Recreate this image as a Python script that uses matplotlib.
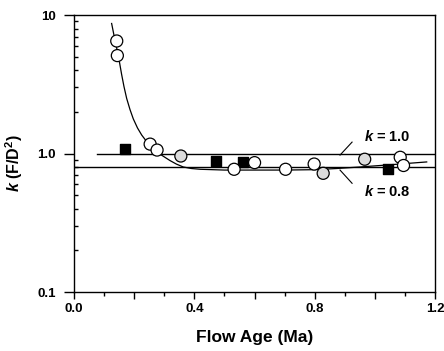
import matplotlib
matplotlib.use("Agg")
import matplotlib.pyplot as plt
from matplotlib.ticker import FixedLocator, NullFormatter, LogLocator

plt.rcParams['font.family'] = ['Liberation Sans', 'DejaVu Sans']
plt.rcParams['mathtext.fontset'] = 'custom'
plt.rcParams['mathtext.rm'] = 'Liberation Sans:bold'
plt.rcParams['mathtext.it'] = 'Liberation Sans:bold:italic'
plt.rcParams['mathtext.bf'] = 'Liberation Sans:bold'

# Open circles (flow age Ma, k)
circ_age = [0.142, 0.144, 0.253, 0.276, 0.355, 0.532, 0.600, 0.703, 0.798, 0.828, 0.966, 1.084, 1.095]
circ_k = [6.5, 5.1, 1.17, 1.06, 0.96, 0.77, 0.86, 0.77, 0.84, 0.72, 0.91, 0.94, 0.82]
circ_fill = ['white', 'white', 'white', 'white', '#dcdcdc', 'white', 'white', 'white', 'white',
             '#dcdcdc', '#dcdcdc', 'white', 'white']

# Filled squares
sq_age = [0.170, 0.471, 0.561, 1.045]
sq_k = [1.08, 0.89, 0.87, 0.78]

# Fitted curve
fit_age = [0.125, 0.136, 0.147, 0.158, 0.166, 0.175, 0.186, 0.197, 0.211, 0.225, 0.239, 0.253,
           0.270, 0.286, 0.302, 0.319, 0.340, 0.363, 0.390, 0.419, 0.46,
           0.50, 0.60, 0.70, 0.80, 0.873, 0.95, 1.05, 1.172]
fit_k = [8.7, 6.6, 5.14, 3.75, 3.05, 2.5, 2.08, 1.78, 1.53, 1.36, 1.24, 1.14,
         1.06, 0.99, 0.94, 0.89, 0.84, 0.80, 0.78, 0.77, 0.765,
         0.76, 0.76, 0.76, 0.765, 0.78, 0.80, 0.83, 0.87]

# Reference lines
ref_k = [1.0, 0.8]
ref_start = [0.075, 0.0]

fig = plt.figure(figsize=(4.44, 3.51), dpi=100)
ax = fig.add_axes([0.1667, 0.168, 0.8133, 0.789])

ax.set_yscale('log')
ax.set_xlim(0.0, 1.2)
ax.set_ylim(0.1, 10)

for k, x0 in zip(ref_k, ref_start):
    ax.plot([x0, 1.2], [k, k], color='black', lw=1.0, zorder=2)

ax.plot(fit_age, fit_k, color='black', lw=0.9, zorder=2)

ax.scatter(circ_age, circ_k, s=75, facecolors=circ_fill, edgecolors='black', linewidths=0.9, zorder=4)
ax.scatter(sq_age, sq_k, s=45, marker='s', color='black', zorder=3)

# leader lines and labels
ax.plot([0.924, 0.884], [1.21, 0.975], color='black', lw=0.8)
ax.plot([0.884, 0.924], [0.76, 0.61], color='black', lw=0.8)
ax.text(0.962, 1.32, r'$k$ = 1.0', fontsize=10.5, fontweight='bold', ha='left', va='center')
ax.text(0.962, 0.53, r'$k$ = 0.8', fontsize=10.5, fontweight='bold', ha='left', va='center')

# ticks
ax.xaxis.set_major_locator(FixedLocator([0.0, 0.2, 0.4, 0.6, 0.8, 1.0, 1.2]))
ax.xaxis.set_minor_locator(FixedLocator([0.1, 0.3, 0.5, 0.7, 0.9, 1.1]))
ax.set_xticklabels(['0.0', '', '0.4', '', '0.8', '', '1.2'])
ax.tick_params(axis='x', which='major', direction='out', length=5, width=1, labelsize=9.5, pad=3)
ax.tick_params(axis='x', which='minor', direction='out', length=3, width=1)

ax.yaxis.set_major_locator(FixedLocator([0.1, 1.0, 10]))
ax.set_yticklabels(['0.1', '1.0', '10'])
ax.yaxis.set_minor_locator(LogLocator(base=10, subs=[2, 3, 4, 5, 6, 7, 8, 9]))
ax.yaxis.set_minor_formatter(NullFormatter())
ax.tick_params(axis='y', which='major', direction='out', length=7, width=1, labelsize=9.5, pad=6)
ax.tick_params(axis='y', which='minor', direction='in', length=3, width=1)

for lbl in ax.get_xticklabels() + ax.get_yticklabels():
    lbl.set_fontweight('bold')

for sp in ax.spines.values():
    sp.set_linewidth(1.0)

ax.set_xlabel('Flow Age (Ma)', fontsize=12.5, fontweight='bold', labelpad=11)
ax.set_ylabel(r'$k$ (F/D$^2$)', fontsize=11.5, fontweight='bold')
ax.yaxis.set_label_coords(-0.135, 0.466)

fig.savefig('out.png', dpi=100)
